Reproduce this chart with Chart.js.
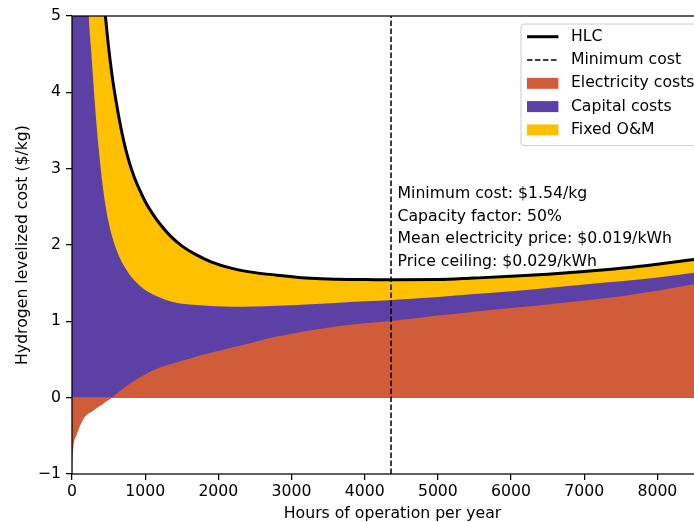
<!DOCTYPE html>
<html lang="en">
<head>
    <meta charset="UTF-8">
    <title>Hydrogen levelized cost</title>
    <script src="https://cdn.jsdelivr.net/npm/chart.js"></script>
    <style>
        html, body { margin: 0; padding: 0; background: #fff; overflow: hidden; }
        #wrap { width: 694px; height: 522px; overflow: hidden; position: relative; }
        #hlcCanvas { position: absolute; left: 0; top: 0; }
    </style>
</head>
<body>
    <div id="wrap">
        <canvas id="hlcCanvas" width="720" height="532"></canvas>
    </div>
    <script>
        // hours of operation per year (sample points)
        var hours = [0, 5, 20, 60, 150, 230, 260, 290, 320, 350, 380, 420, 460, 500, 550, 600, 660, 720, 780,
            850, 920, 1000, 1100, 1200, 1350, 1500, 1700, 1900, 2200, 2500, 2800, 3200, 3600, 4000, 4380,
            5000, 5500, 6000, 6500, 7000, 7500, 8000, 8500, 8760];
        // cost components, $/kg
        var electricityCost = [-0.99, -0.85, -0.64, -0.50, -0.29, -0.205, -0.19, -0.17, -0.15, -0.13, -0.11,
            -0.085, -0.058, -0.03, 0.006, 0.045, 0.09, 0.135, 0.175, 0.22, 0.265, 0.305, 0.355, 0.395, 0.44,
            0.483, 0.54, 0.588, 0.66, 0.73, 0.80, 0.873, 0.933, 0.975, 1.007, 1.075, 1.127, 1.176, 1.222,
            1.273, 1.33, 1.40, 1.485, 1.53];
        var capitalCost = [200, 150, 60, 20.5, 8.2, 5.217, 4.769, 4.328, 3.906, 3.543, 3.229, 2.857, 2.565, 2.33,
            2.10, 1.913, 1.727, 1.576, 1.446, 1.318, 1.209, 1.105, 1.0, 0.917, 0.819, 0.747, 0.674, 0.613,
            0.532, 0.464, 0.405, 0.348, 0.308, 0.2875, 0.274, 0.245, 0.23, 0.218, 0.215, 0.21, 0.195, 0.175,
            0.152, 0.145];
        var fixedOM = [400, 250, 55.6, 18, 7.29, 4.826, 4.115, 3.638, 3.313, 3.057, 2.85, 2.643, 2.457, 2.29,
            2.10, 1.937, 1.758, 1.597, 1.471, 1.353, 1.257, 1.16, 1.056, 0.967, 0.854, 0.759, 0.656, 0.579,
            0.498, 0.444, 0.40, 0.346, 0.309, 0.285, 0.264, 0.227, 0.21, 0.195, 0.179, 0.169, 0.169, 0.1725,
            0.173, 0.169];
        var hourTicks = [0, 1000, 2000, 3000, 4000, 5000, 6000, 7000, 8000];
        var hourRange = [0, 8760];
        var costRange = [-1, 5];
        var minHours = 4360;
        var annotationLines = [
            'Minimum cost: $1.54/kg',
            'Capacity factor: 50%',
            'Mean electricity price: $0.019/kWh',
            'Price ceiling: $0.029/kWh'
        ];

        var FONT_SIZE = 15.7;
        var FONT = FONT_SIZE + 'px "DejaVu Sans"';
        var ORANGE = '#D05C39';
        var PURPLE = '#5B40A6';
        var YELLOW = '#FFC000';

        // cumulative tops for the filled bands
        var elecTop = [], capTop = [], hlc = [];
        for (var i = 0; i < hours.length; i++) {
            var e = electricityCost[i];
            var c = e + capitalCost[i];
            elecTop.push({x: hours[i], y: e});
            capTop.push({x: hours[i], y: c});
            hlc.push({x: hours[i], y: c + fixedOM[i]});
        }

        // matplotlib-like legend in the upper right of the axes
        var legendPlugin = {
            id: 'mplLegend',
            afterDraw: function (chart) {
                var ctx = chart.ctx, area = chart.chartArea;
                var ds = chart.data.datasets;
                ctx.save();
                ctx.font = FONT;
                var textW = 0;
                ds.forEach(function (d) { textW = Math.max(textW, ctx.measureText(d.label).width); });
                var left = area.left + 449, top = area.top + 8;
                var rowH = 23.3;
                var w = 5.5 + 31.4 + 12.5 + textW + 5.5;
                var h = 12.7 + rowH * (ds.length - 1) + 15.7;
                ctx.beginPath();
                ctx.roundRect(left, top, w, h, 3);
                ctx.fillStyle = 'rgba(255,255,255,0.8)';
                ctx.fill();
                ctx.strokeStyle = '#cccccc';
                ctx.lineWidth = 1;
                ctx.stroke();
                ds.forEach(function (d, k) {
                    var cy = top + 12.7 + rowH * k;
                    var hx = left + 6;
                    if (d.fill) {
                        ctx.fillStyle = d.backgroundColor;
                        ctx.fillRect(hx, cy - 5.5, 31.4, 11);
                    } else {
                        ctx.beginPath();
                        ctx.setLineDash(d.borderDash || []);
                        ctx.strokeStyle = d.borderColor;
                        ctx.lineWidth = d.borderWidth;
                        ctx.moveTo(hx, cy);
                        ctx.lineTo(hx + 31.4, cy);
                        ctx.stroke();
                        ctx.setLineDash([]);
                    }
                    ctx.fillStyle = '#000';
                    ctx.textBaseline = 'middle';
                    ctx.textAlign = 'left';
                    ctx.fillText(d.label, hx + 31.4 + 12.5, cy);
                });
                ctx.restore();
            }
        };

        // frame + text next to the minimum cost line
        var framePlugin = {
            id: 'frameAndNotes',
            afterDatasetsDraw: function (chart) {
                var ctx = chart.ctx, area = chart.chartArea;
                var xs = chart.scales.x, ys = chart.scales.y;
                ctx.save();
                ctx.strokeStyle = '#000';
                ctx.lineWidth = 1.25;
                ctx.strokeRect(area.left, area.top, area.right - area.left, area.bottom - area.top);
                ctx.font = FONT;
                ctx.fillStyle = '#000';
                ctx.textAlign = 'left';
                ctx.textBaseline = 'middle';
                var tx = xs.getPixelForValue(minHours) + 6.5;
                var ty = ys.getPixelForValue(2.668);
                annotationLines.forEach(function (line, k) {
                    ctx.fillText(line, tx, ty + k * 22.6);
                });
                ctx.restore();
            }
        };

        Chart.defaults.font.family = '"DejaVu Sans"';
        Chart.defaults.font.size = FONT_SIZE;
        Chart.defaults.color = '#000';

        new Chart(document.getElementById('hlcCanvas').getContext('2d'), {
            type: 'line',
            data: {
                datasets: [
                    {
                        label: 'HLC',
                        data: hlc,
                        borderColor: '#000',
                        borderWidth: 3,
                        fill: false,
                        pointRadius: 0,
                        cubicInterpolationMode: 'monotone'
                    },
                    {
                        label: 'Minimum cost',
                        data: [{x: minHours, y: costRange[0]}, {x: minHours, y: costRange[1]}],
                        borderColor: '#000',
                        borderWidth: 1.5,
                        borderDash: [5.5, 2.5],
                        fill: false,
                        pointRadius: 0
                    },
                    {
                        label: 'Electricity costs',
                        data: elecTop,
                        backgroundColor: ORANGE,
                        borderColor: 'rgba(0,0,0,0)',
                        borderWidth: 0,
                        fill: 'origin',
                        pointRadius: 0,
                        cubicInterpolationMode: 'monotone'
                    },
                    {
                        label: 'Capital costs',
                        data: capTop,
                        backgroundColor: PURPLE,
                        borderColor: 'rgba(0,0,0,0)',
                        borderWidth: 0,
                        fill: 'origin',
                        pointRadius: 0,
                        cubicInterpolationMode: 'monotone'
                    },
                    {
                        label: 'Fixed O&M',
                        data: hlc,
                        backgroundColor: YELLOW,
                        borderColor: 'rgba(0,0,0,0)',
                        borderWidth: 0,
                        fill: 'origin',
                        pointRadius: 0,
                        cubicInterpolationMode: 'monotone'
                    }
                ]
            },
            options: {
                responsive: false,
                animation: false,
                devicePixelRatio: 1,
                layout: { padding: { top: 16, right: 7, left: 0, bottom: 0 } },
                plugins: {
                    legend: { display: false },
                    tooltip: { enabled: false }
                },
                scales: {
                    x: {
                        type: 'linear',
                        min: hourRange[0],
                        max: hourRange[1],
                        afterFit: function (s) { s.height = 58; },
                        afterBuildTicks: function (s) {
                            s.ticks = hourTicks.map(function (v) { return {value: v}; });
                        },
                        border: { display: false },
                        grid: { drawOnChartArea: false, drawTicks: true, tickLength: 6, tickColor: '#000', lineWidth: 1.25 },
                        ticks: {
                            autoSkip: false,
                            maxRotation: 0,
                            padding: 3,
                            callback: function (v) { return String(v); }
                        },
                        title: { display: true, text: 'Hours of operation per year', padding: { top: 0, bottom: 8.5 } }
                    },
                    y: {
                        min: costRange[0],
                        max: costRange[1],
                        afterFit: function (s) { s.width = 72; },
                        border: { display: false },
                        grid: { drawOnChartArea: false, drawTicks: true, tickLength: 6, tickColor: '#000', lineWidth: 1.25 },
                        ticks: {
                            stepSize: 1,
                            padding: 5,
                            callback: function (v) { return v < 0 ? '\u2212' + Math.abs(v) : String(v); }
                        },
                        title: { display: true, text: 'Hydrogen levelized cost ($/kg)', padding: { top: 14, bottom: 0 } }
                    }
                }
            },
            plugins: [framePlugin, legendPlugin]
        });
    </script>
</body>
</html>
